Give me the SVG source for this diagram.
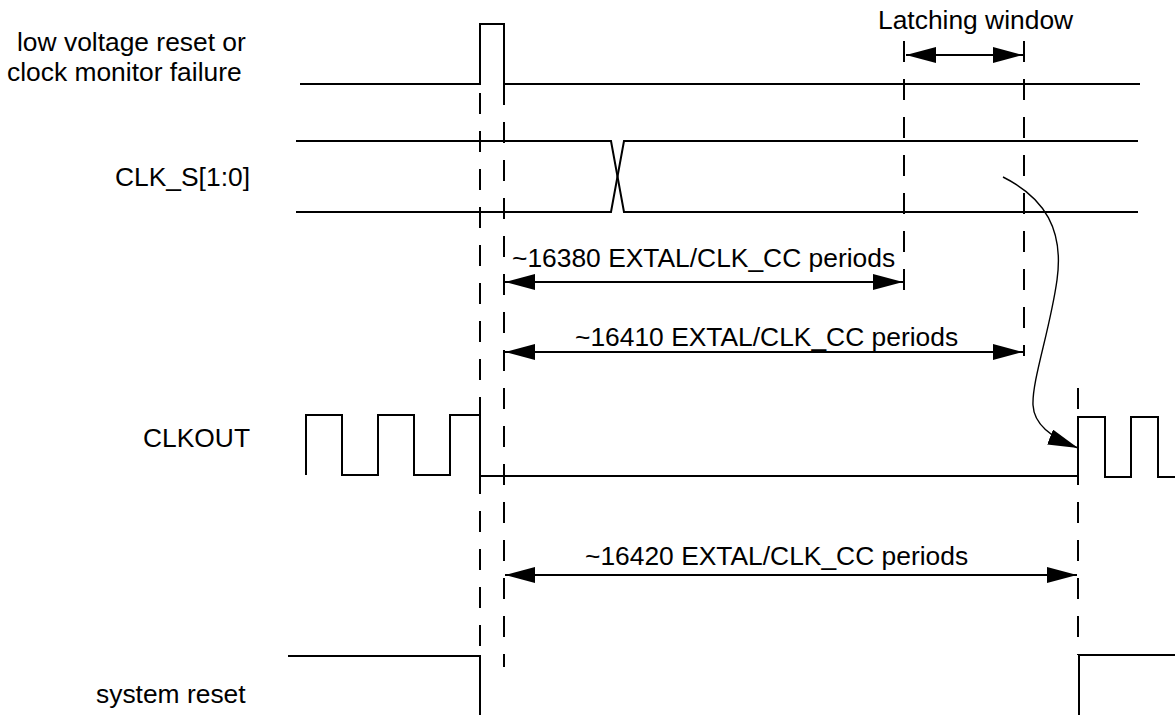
<svg xmlns="http://www.w3.org/2000/svg" width="1175" height="715" viewBox="0 0 1175 715">
<defs>
<style>
.sig{fill:none;stroke:#000;stroke-width:2;stroke-linejoin:miter;stroke-linecap:butt}
.dash{fill:none;stroke:#000;stroke-width:2;stroke-dasharray:21 17}
.arr{fill:none;stroke:#000;stroke-width:2;marker-start:url(#ah);marker-end:url(#ah)}
.curve{fill:none;stroke:#000;stroke-width:1.4;marker-end:url(#ah)}
.lbl{font-family:"Liberation Sans",Arial,sans-serif;font-size:26.4px;fill:#000}
</style>
<marker id="ah" markerUnits="userSpaceOnUse" markerWidth="30" markerHeight="16" refX="30" refY="8" orient="auto-start-reverse" viewBox="0 0 30 16">
<path d="M0,0 L30,8 L0,16 z" fill="#000"/>
</marker>
</defs>
<rect width="1175" height="715" fill="#fff"/>

<g id="lvr-signal">
<text class="lbl" x="17" y="51">low voltage reset or</text>
<text class="lbl" x="7" y="81">clock monitor failure</text>
<path class="sig" d="M300,84 H480 V24 H504 V84 H1140"/>
</g>

<g id="clks-signal">
<text class="lbl" x="115" y="186">CLK_S[1:0]</text>
<path class="sig" d="M296,141 H611 L624,212 H1138"/>
<path class="sig" d="M296,212 H611 L624,141 H1138"/>
</g>

<g id="clkout-signal">
<text class="lbl" x="143" y="447">CLKOUT</text>
<path class="sig" d="M306,475 V415 H342 V475 H378 V415 H414 V475 H450 V415 H480 V476 H1078 V417 H1105 V477 H1131 V417 H1158 V477 H1175"/>
</g>

<g id="sysreset-signal">
<text class="lbl" x="96" y="703">system reset</text>
<path class="sig" d="M288,656 H480 V715"/>
<path class="sig" d="M1079,715 V655 H1175"/>
</g>

<g id="guides">
<line class="dash" x1="480" y1="93" x2="480" y2="656"/>
<line class="dash" x1="504" y1="84" x2="504" y2="667"/>
<line class="dash" x1="904" y1="41" x2="904" y2="290"/>
<line class="dash" x1="1024" y1="41" x2="1024" y2="356"/>
<line class="dash" x1="1078" y1="388" x2="1078" y2="655"/>
</g>

<g id="latching-window">
<text class="lbl" x="878" y="29">Latching window</text>
</g>

<g id="connectors">
<line class="arr" x1="906" y1="55" x2="1023" y2="55"/>
<line class="arr" x1="505" y1="282" x2="903" y2="282"/>
<text class="lbl" x="512" y="267">~16380 EXTAL/CLK_CC periods</text>
<line class="arr" x1="505" y1="352" x2="1023" y2="352"/>
<text class="lbl" x="575" y="346">~16410 EXTAL/CLK_CC periods</text>
<line class="arr" x1="505" y1="575" x2="1077" y2="575"/>
<text class="lbl" x="585" y="565">~16420 EXTAL/CLK_CC periods</text>
<path class="curve" d="M1003,177 C1045,198 1064,230 1057,280 C1050,330 1032,380 1033,405 C1034,424 1050,437 1078,448"/>
</g>
</svg>
